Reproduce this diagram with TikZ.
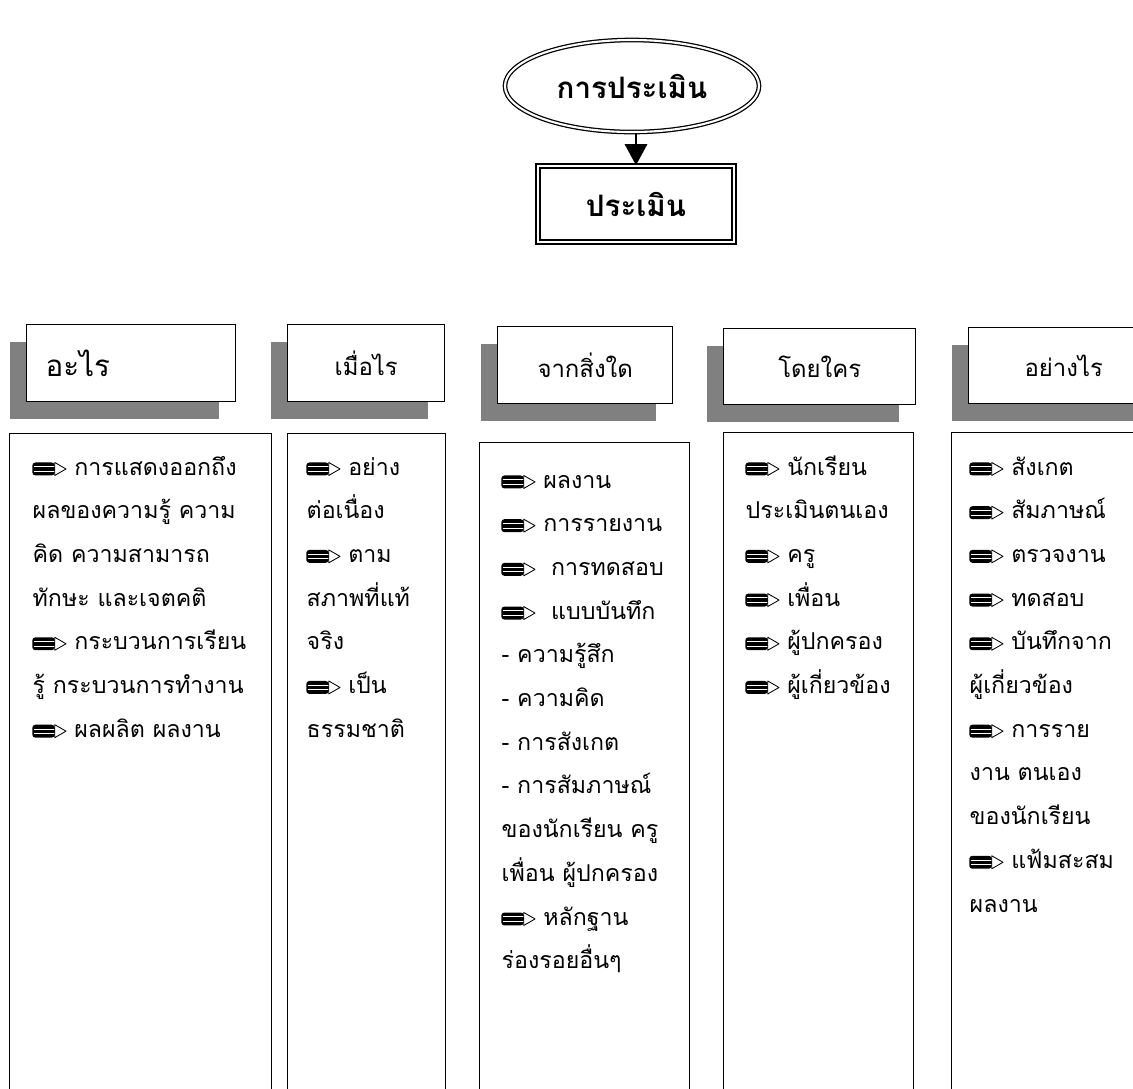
\documentclass[tikz,border=0pt]{standalone}
\usepackage{fontspec}
\newfontfamily\thai[Script=Thai]{Loma}
\usetikzlibrary{positioning}
\usetikzlibrary{shapes.geometric}
\usetikzlibrary{shadows}
\usetikzlibrary{arrows.meta}

\newcommand{\pencil}{\tikz[x=1pt, y=1pt, baseline=-4.3pt, line width=0.6pt]{%
  \fill[rounded corners=2.2pt] (0,-4.6) rectangle (16,4.6);
  \draw[white, line width=0.55pt] (1,-1.6) -- (16,-1.6) (1,1.6) -- (16,1.6);
  \draw[fill=white, line join=round] (16,4.6) -- (24,0) -- (16,-4.6) -- cycle;}}

\begin{document}
\begin{tikzpicture}[x=0.025cm, y=-0.025cm, line width=1pt,
  main/.style={ellipse, draw, double, double distance=1.5pt, line width=0.9pt, minimum width=6.35cm, minimum height=2.3cm, inner sep=0pt, font=\thai\bfseries\fontsize{21}{24}\selectfont},
  sub/.style={rectangle, draw, double, double distance=2pt, line width=1.1pt, minimum width=4.9cm, minimum height=1.9cm, font=\thai\bfseries\fontsize{21}{24}\selectfont},
  head/.style={rectangle, draw, fill=white, anchor=north west, minimum height=1.925cm, font=\thai\fontsize{17}{20}\selectfont, drop shadow={shadow xshift=-12pt, shadow yshift=-12pt, fill=gray, opacity=1}},
  colbox/.style={rectangle, draw, anchor=north west, minimum height=16.7cm},
  item/.style={anchor=base west, inner sep=0pt, font=\thai\fontsize{16.5}{20}\selectfont}]

  \clip (0,0) rectangle (1133,1088);

  \node[main] (E) at (632,86) {การประเมิน};
  \node[sub] (P) at (636,204) {ประเมิน};
  \draw[-{Triangle[width=16pt, length=15pt]}] (E.south -| P.north) -- (P.north);

  \node[head, minimum width=5.225cm, text width=4.275cm, inner xsep=0.475cm, align=left, font=\thai\fontsize{21}{24}\selectfont] (H1) at (26,324) {อะไร};
  \node[head, minimum width=3.925cm] (H2) at (287,324) {เมื่อไร};
  \node[head, minimum width=4.375cm] (H3) at (497,326) {จากสิ่งใด};
  \node[head, minimum width=4.8cm, minimum height=1.9cm] (H4) at (723,328) {โดยใคร};
  \node[head, minimum width=4.75cm, minimum height=1.9cm] (H5) at (968,327) {อย่างไร};

  \node[colbox, minimum width=6.55cm] (C1) at (9,433) {};
  \node[colbox, minimum width=3.95cm] (C2) at (287,433) {};
  \node[colbox, minimum width=5.25cm] (C3) at (479,442) {};
  \node[colbox, minimum width=4.75cm] (C4) at (723,432) {};
  \node[colbox, minimum width=5.275cm] (C5) at (951,432) {};

  \foreach \txt [count=\i] in {\pencil\ การแสดงออกถึง, ผลของความรู้ ความ, คิด ความสามารถ, ทักษะ และเจตคติ, \pencil\ กระบวนการเรียน, รู้ กระบวนการทำงาน, \pencil\ ผลผลิต ผลงาน}
    \node[item] (A\i) at (32,431.3+43.7*\i) {\txt};

  \foreach \txt [count=\i] in {\pencil\ อย่าง, ต่อเนื่อง, \pencil\ ตาม, สภาพที่แท้, จริง, \pencil\ เป็น, ธรรมชาติ}
    \node[item] (B\i) at (306,431.3+43.7*\i) {\txt};

  \foreach \txt [count=\i] in {\pencil\ ผลงาน, \pencil\ การรายงาน, \pencil\ \ การทดสอบ, \pencil\ \ แบบบันทึก, - ความรู้สึก, - ความคิด, - การสังเกต, - การสัมภาษณ์, ของนักเรียน ครู, เพื่อน ผู้ปกครอง, \pencil\ หลักฐาน, ร่องรอยอื่นๆ}
    \node[item] (C\i) at (501,444.3+43.7*\i) {\txt};

  \foreach \txt [count=\i] in {\pencil\ นักเรียน, ประเมินตนเอง, \pencil\ ครู, \pencil\ เพื่อน, \pencil\ ผู้ปกครอง, \pencil\ ผู้เกี่ยวข้อง}
    \node[item] (D\i) at (745,431.3+43.7*\i) {\txt};

  \foreach \txt [count=\i] in {\pencil\ สังเกต, \pencil\ สัมภาษณ์, \pencil\ ตรวจงาน, \pencil\ ทดสอบ, \pencil\ บันทึกจาก, ผู้เกี่ยวข้อง, \pencil\ การราย, งาน ตนเอง, ของนักเรียน, \pencil\ แฟ้มสะสม, ผลงาน}
    \node[item] (F\i) at (969,431.3+43.7*\i) {\txt};
\end{tikzpicture}
\end{document}
